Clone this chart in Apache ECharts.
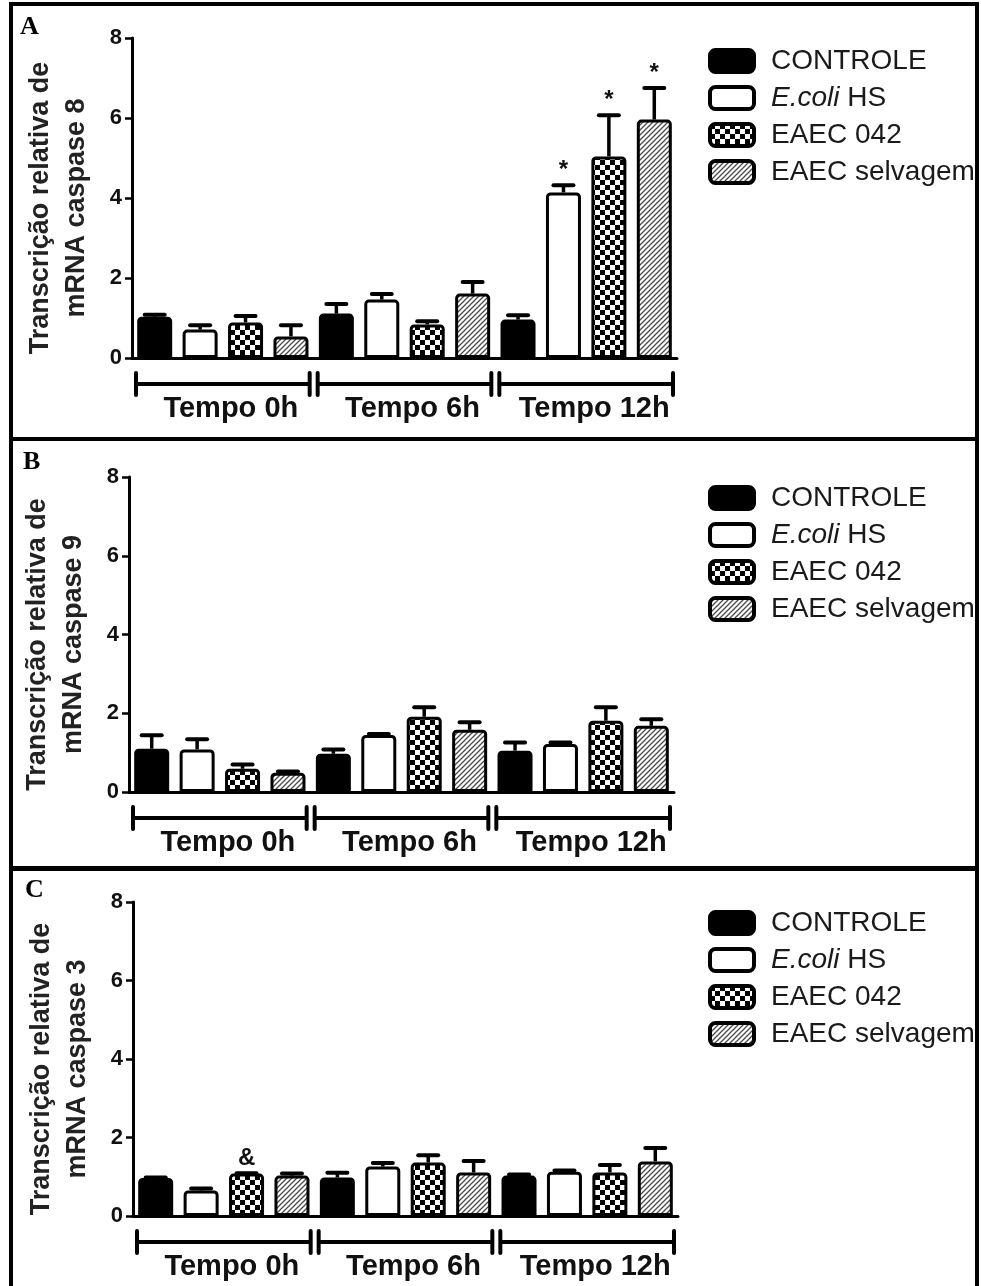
<!DOCTYPE html>
<html>
<head>
<meta charset="utf-8">
<script src="https://cdn.jsdelivr.net/npm/echarts@6/dist/echarts.min.js"></script>
<style>
  html, body { margin: 0; padding: 0; background: #fff; }
  #chart { width: 981px; height: 1286px; }
</style>
</head>
<body>
<div id="chart"></div>
<script>
// ---- data ----------------------------------------------------------
const categories = ['Tempo 0h', 'Tempo 6h', 'Tempo 12h'];
const seriesNames = ['CONTROLE', 'E.coli HS', 'EAEC 042', 'EAEC selvagem'];
const yTickValues = [0, 2, 4, 6, 8];

// caspase 8: means and upper end of the error bar (mean + SEM)
const c8Controle = [1.03, 1.11, 0.96];
const c8Ecoli = [0.71, 1.46, 4.14];
const c8Eaec042 = [0.89, 0.84, 5.04];
const c8Selvagem = [0.54, 1.61, 5.96];
const c8ControleErr = [1.08, 1.35, 1.07];
const c8EcoliErr = [0.82, 1.60, 4.32];
const c8Eaec042Err = [1.05, 0.92, 6.07];
const c8SelvagemErr = [0.82, 1.90, 6.75];
const c8Marks = [[1, 2, '*'], [2, 2, '*'], [3, 2, '*']];

// caspase 9
const c9Controle = [1.10, 0.97, 1.05];
const c9Ecoli = [1.08, 1.45, 1.22];
const c9Eaec042 = [0.59, 1.91, 1.81];
const c9Selvagem = [0.49, 1.58, 1.68];
const c9ControleErr = [1.44, 1.08, 1.26];
const c9EcoliErr = [1.34, 1.47, 1.26];
const c9Eaec042Err = [0.70, 2.15, 2.15];
const c9SelvagemErr = [0.52, 1.77, 1.85];
const c9Marks = [];

// caspase 3
const c3Controle = [0.97, 0.98, 1.03];
const c3Ecoli = [0.65, 1.26, 1.13];
const c3Eaec042 = [1.08, 1.36, 1.11];
const c3Selvagem = [1.03, 1.11, 1.39];
const c3ControleErr = [0.98, 1.10, 1.06];
const c3EcoliErr = [0.70, 1.35, 1.16];
const c3Eaec042Err = [1.09, 1.55, 1.30];
const c3SelvagemErr = [1.08, 1.40, 1.73];
const c3Marks = [[2, 0, '&']];

// ---- fill patterns -------------------------------------------------
function checkerPattern() {
  const s = 5;
  const c = document.createElement('canvas');
  c.width = 2 * s; c.height = 2 * s;
  const g = c.getContext('2d');
  g.fillStyle = '#ffffff'; g.fillRect(0, 0, 2 * s, 2 * s);
  g.fillStyle = '#000000';
  g.fillRect(0, 0, s, s); g.fillRect(s, s, s, s);
  return { image: c, repeat: 'repeat' };
}
function hatchPattern() {
  const s = 5;
  const c = document.createElement('canvas');
  c.width = s; c.height = s;
  const g = c.getContext('2d');
  g.fillStyle = '#ffffff'; g.fillRect(0, 0, s, s);
  g.strokeStyle = '#4a4a4a'; g.lineWidth = 1.3;
  g.beginPath();
  g.moveTo(-1, s + 1); g.lineTo(s + 1, -1);
  g.moveTo(-1, 1); g.lineTo(1, -1);
  g.moveTo(s - 1, s + 1); g.lineTo(s + 1, s - 1);
  g.stroke();
  return { image: c, repeat: 'repeat' };
}
const fills = ['#000000', '#ffffff', checkerPattern(), hatchPattern()];

// ---- panel layout --------------------------------------------------
const FONT = '"Liberation Sans", Arial, sans-serif';
const panels = [
  { letter: 'A', title: 'Transcrição relativa de\nmRNA caspase 8',
    means: [c8Controle, c8Ecoli, c8Eaec042, c8Selvagem],
    errs: [c8ControleErr, c8EcoliErr, c8Eaec042Err, c8SelvagemErr],
    marks: c8Marks,
    left: 132, top: 38, height: 320, legendTop: 41, letterPos: [20, 14] },
  { letter: 'B', title: 'Transcrição relativa de\nmRNA caspase 9',
    means: [c9Controle, c9Ecoli, c9Eaec042, c9Selvagem],
    errs: [c9ControleErr, c9EcoliErr, c9Eaec042Err, c9SelvagemErr],
    marks: c9Marks,
    left: 129, top: 477, height: 315, legendTop: 478, letterPos: [23, 449] },
  { letter: 'C', title: 'Transcrição relativa de\nmRNA caspase 3',
    means: [c3Controle, c3Ecoli, c3Eaec042, c3Selvagem],
    errs: [c3ControleErr, c3EcoliErr, c3Eaec042Err, c3SelvagemErr],
    marks: c3Marks,
    left: 133, top: 902, height: 314, legendTop: 903, letterPos: [25, 877] }
];
const GRID_W = 545;
const BAR_W = 35;
const slot = GRID_W / 12;
const barGap = ((slot - BAR_W) / BAR_W * 100).toFixed(1) + '%';

const grids = [], xAxes = [], yAxes = [], series = [], legends = [], graphics = [];

panels.forEach((p, pi) => {
  grids.push({ left: p.left, top: p.top, width: GRID_W, height: p.height,
               containLabel: false, outerBoundsMode: 'none' });

  xAxes.push({
    type: 'category', gridIndex: pi, data: categories,
    axisLine: { lineStyle: { color: '#000', width: 3 } },
    axisTick: { show: false },
    axisLabel: { interval: 0, hideOverlap: false, color: '#111', fontFamily: FONT,
                 fontWeight: 'bold', fontSize: 29, margin: 36, padding: [0, 0, 0, 16] },
    splitLine: { show: false }
  });

  yAxes.push({
    type: 'value', gridIndex: pi, min: yTickValues[0], max: yTickValues[yTickValues.length - 1],
    interval: yTickValues[1] - yTickValues[0],
    name: p.title, nameLocation: 'middle', nameGap: 37,
    nameTextStyle: { color: '#222', fontFamily: FONT, fontWeight: 'bold', fontSize: 27,
                     lineHeight: 36, padding: [0, 20, 0, 0] },
    axisLine: { show: true, lineStyle: { color: '#000', width: 3 } },
    axisTick: { show: true, length: 7, lineStyle: { color: '#000', width: 2.5 } },
    axisLabel: { color: '#111', fontFamily: FONT, fontWeight: 'bold', fontSize: 22, margin: 10 },
    splitLine: { show: false }
  });

  // bars
  seriesNames.forEach((name, si) => {
    series.push({
      type: 'bar', name: name, xAxisIndex: pi, yAxisIndex: pi,
      data: p.means[si], barWidth: BAR_W, barGap: barGap,
      itemStyle: { color: fills[si], borderColor: '#000', borderWidth: 3, borderRadius: [3, 3, 0, 0] },
      emphasis: { disabled: true }, z: 2
    });
  });

  // error bars (upper whisker) with significance marks
  const errData = [];
  seriesNames.forEach((name, si) => {
    categories.forEach((c, ci) => {
      const mark = p.marks.filter(m => m[0] === si && m[1] === ci).map(m => m[2]).join('');
      errData.push([ci, p.errs[si][ci], p.means[si][ci], si, mark]);
    });
  });
  series.push({
    type: 'custom', name: 'err' + pi, xAxisIndex: pi, yAxisIndex: pi,
    data: errData, encode: { x: 0, y: 1 }, z: 5, silent: true,
    renderItem: (params, api) => {
      const ci = api.value(0), si = api.value(3);
      const cw = api.size([1, 0])[0];
      const x = api.coord([ci, 0])[0] + (si - 1.5) * cw / 4;
      const yTop = api.coord([ci, api.value(1)])[1];
      const yMean = api.coord([ci, api.value(2)])[1];
      const children = [
        { type: 'line', shape: { x1: x, y1: yMean, x2: x, y2: yTop },
          style: { stroke: '#000', lineWidth: 3.5 } },
        { type: 'line', shape: { x1: x - 10, y1: yTop, x2: x + 10, y2: yTop },
          style: { stroke: '#000', lineWidth: 4, lineCap: 'round' } }
      ];
      const mark = api.value(4);
      if (mark) {
        children.push({ type: 'text', x: x, y: yTop - 15,
          style: { text: mark, fill: '#111', fontFamily: FONT, fontWeight: 'bold',
                   fontSize: 24, align: 'center', verticalAlign: 'middle' } });
      }
      return { type: 'group', children };
    }
  });

  // group brackets under the axis
  series.push({
    type: 'custom', name: 'bracket' + pi, xAxisIndex: pi, yAxisIndex: pi,
    data: categories.map((c, ci) => [ci, 0]), encode: { x: 0, y: 1 },
    silent: true, clip: false, z: 5,
    renderItem: (params, api) => {
      const ci = api.value(0);
      const cw = api.size([1, 0])[0];
      const [cx, cy] = api.coord([ci, 0]);
      const y = cy + 26, x1 = cx - cw / 2 + 4, x2 = cx + cw / 2 - 4;
      const st = { stroke: '#000', lineWidth: 4 };
      return { type: 'group', children: [
        { type: 'line', shape: { x1, y1: y, x2, y2: y }, style: st },
        { type: 'line', shape: { x1, y1: y - 11, x2: x1, y2: y + 11 }, style: { stroke: '#000', lineWidth: 4, lineCap: 'round' } },
        { type: 'line', shape: { x1: x2, y1: y - 11, x2, y2: y + 11 }, style: { stroke: '#000', lineWidth: 4, lineCap: 'round' } }
      ] };
    }
  });

  legends.push({
    data: seriesNames, orient: 'vertical', left: 703, top: p.legendTop,
    itemWidth: 44, itemHeight: 22, itemGap: 7, icon: 'roundRect',
    selectedMode: false,
    itemStyle: { borderColor: '#000', borderWidth: 4 },
    textStyle: { color: '#1a1a1a', fontFamily: FONT, fontSize: 28, lineHeight: 30,
                 padding: [0, 0, 0, 12],
                 rich: { i: { fontStyle: 'italic', fontFamily: FONT, fontSize: 28, color: '#1a1a1a' } } },
    formatter: n => n === 'E.coli HS' ? '{i|E.coli} HS' : n
  });

  graphics.push({ type: 'text', left: p.letterPos[0], top: p.letterPos[1], z: 50,
    style: { text: p.letter, fill: '#000', font: 'bold 26px "Liberation Serif", "Times New Roman", serif' } });
});

// panel frame
const frame = [
  [9, 2, 970, 4],     // top
  [9, 2, 4, 1284],    // left
  [975, 2, 4, 1284],  // right
  [9, 437, 970, 4],   // A | B
  [9, 866, 970, 5]    // B | C
];
frame.forEach(r => graphics.push({ type: 'rect', z: 100, silent: true,
  shape: { x: r[0], y: r[1], width: r[2], height: r[3] }, style: { fill: '#000' } }));
graphics.push({ type: 'rect', z: 100, silent: true,
  shape: { x: 979, y: 0, width: 2, height: 1286 }, style: { fill: '#fff' } });

const chart = echarts.init(document.getElementById('chart'), null, { renderer: 'canvas' });
chart.setOption({
  animation: false,
  backgroundColor: '#fff',
  grid: grids, xAxis: xAxes, yAxis: yAxes,
  legend: legends, series: series,
  graphic: { elements: graphics }
});
</script>
</body>
</html>
